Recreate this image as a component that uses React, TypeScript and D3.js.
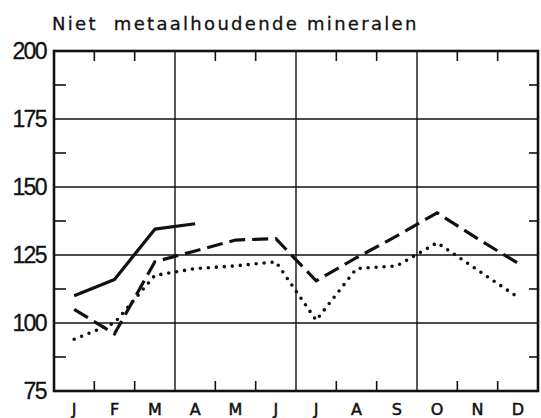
import React, { useEffect, useRef } from 'react';
import * as d3 from 'd3';

const months = ['J', 'F', 'M', 'A', 'M', 'J', 'J', 'A', 'S', 'O', 'N', 'D'];
const yTicks = [75, 100, 125, 150, 175, 200];
const minorTicks = [87.5, 112.5, 137.5, 162.5, 187.5];
const solidSeries = [110, 116, 134.5, 136.5];
const dashedSeries = [105, 96, 122.5, 126.5, 130.5, 131, 115.5, 124, 132, 140.5, 131, 122];
const dottedSeries = [94, 100, 117.5, 120, 121, 122.5, 101, 120, 121, 129.5, 119.5, 109.5];

const W = 541;
const H = 418;
const margin = { top: 51, right: 3, bottom: 27, left: 54 };

const renderChart = (svgEl: SVGSVGElement) => {
  const svg = d3.select(svgEl);
  svg.selectAll('*').remove();

  const innerW = W - margin.left - margin.right;
  const innerH = H - margin.top - margin.bottom;

  const x = d3.scaleLinear().domain([0, 12]).range([0, innerW]);
  const y = d3.scaleLinear().domain([75, 200]).range([innerH, 0]);

  svg.append('text')
    .attr('x', 52)
    .attr('y', 30)
    .attr('font-family', 'DejaVu Sans, sans-serif')
    .attr('font-size', 18)
    .attr('letter-spacing', 2.3)
    .attr('fill', '#111')
    .attr('stroke', '#111')
    .attr('stroke-width', 0.3)
    .style('white-space', 'pre')
    .text('Niet  metaalhoudende mineralen');

  const g = svg.append('g').attr('transform', `translate(${margin.left},${margin.top})`);

  // horizontal grid
  g.selectAll('.hgrid').data(yTicks.slice(1, -1)).enter().append('line')
    .attr('x1', 0).attr('x2', innerW)
    .attr('y1', d => y(d)).attr('y2', d => y(d))
    .attr('stroke', '#111').attr('stroke-width', 1.6);

  // vertical quarter grid
  g.selectAll('.vgrid').data([3, 6, 9]).enter().append('line')
    .attr('x1', d => x(d)).attr('x2', d => x(d))
    .attr('y1', 0).attr('y2', innerH)
    .attr('stroke', '#111').attr('stroke-width', 1.4);

  // month ticks top & bottom
  const monthTicks = d3.range(1, 12).filter(d => d % 3 !== 0);
  g.selectAll('.tt').data(monthTicks).enter().append('line')
    .attr('x1', d => x(d)).attr('x2', d => x(d))
    .attr('y1', 0).attr('y2', 10)
    .attr('stroke', '#111').attr('stroke-width', 1.6);
  g.selectAll('.bt').data(monthTicks).enter().append('line')
    .attr('x1', d => x(d)).attr('x2', d => x(d))
    .attr('y1', innerH).attr('y2', innerH - 10)
    .attr('stroke', '#111').attr('stroke-width', 1.6);

  // minor ticks left & right
  g.selectAll('.lt').data(minorTicks).enter().append('line')
    .attr('x1', 0).attr('x2', 12)
    .attr('y1', d => y(d)).attr('y2', d => y(d))
    .attr('stroke', '#111').attr('stroke-width', 1.6);
  g.selectAll('.rt').data(minorTicks).enter().append('line')
    .attr('x1', innerW).attr('x2', innerW - 9)
    .attr('y1', d => y(d)).attr('y2', d => y(d))
    .attr('stroke', '#111').attr('stroke-width', 1.6);

  // frame
  g.append('rect')
    .attr('x', 0).attr('y', 0)
    .attr('width', innerW).attr('height', innerH)
    .attr('fill', 'none').attr('stroke', '#111').attr('stroke-width', 2.6);

  // y labels
  g.selectAll('.yl').data(yTicks).enter().append('text')
    .attr('x', -8)
    .attr('y', d => y(d))
    .attr('dy', '0.36em')
    .attr('text-anchor', 'end')
    .attr('font-family', 'Liberation Sans, Arial, sans-serif')
    .attr('font-size', 23)
    .attr('letter-spacing', -1.6)
    .attr('fill', '#111')
    .attr('stroke', '#111')
    .attr('stroke-width', 0.3)
    .text(d => d);

  // month labels
  g.selectAll('.ml').data(months).enter().append('text')
    .attr('x', (d, i) => x(i + 0.5))
    .attr('y', innerH + 24)
    .attr('text-anchor', 'middle')
    .attr('font-family', 'DejaVu Sans, sans-serif')
    .attr('font-size', 16)
    .attr('fill', '#111')
    .attr('stroke', '#111')
    .attr('stroke-width', 0.5)
    .text(d => d);

  const line = d3.line<number>()
    .x((d, i) => x(i + 0.5))
    .y(d => y(d));

  g.append('path').datum(solidSeries)
    .attr('d', line)
    .attr('fill', 'none').attr('stroke', '#111')
    .attr('stroke-width', 3.2).attr('stroke-linejoin', 'round');

  g.append('path').datum(dashedSeries)
    .attr('d', line)
    .attr('fill', 'none').attr('stroke', '#111')
    .attr('stroke-width', 3.2)
    .attr('stroke-dasharray', '16 7');

  g.append('path').datum(dottedSeries)
    .attr('d', line)
    .attr('fill', 'none').attr('stroke', '#111')
    .attr('stroke-width', 3.6)
    .attr('stroke-linecap', 'round')
    .attr('stroke-dasharray', '0 8');
};

const App = () => {
  const ref = useRef<SVGSVGElement>(null);
  useEffect(() => {
    if (ref.current) renderChart(ref.current);
  }, []);
  return (
    <svg
      ref={ref}
      width={W}
      height={H}
      style={{ position: 'absolute', left: 0, top: 0, background: '#fff' }}
    />
  );
};

export default App;
